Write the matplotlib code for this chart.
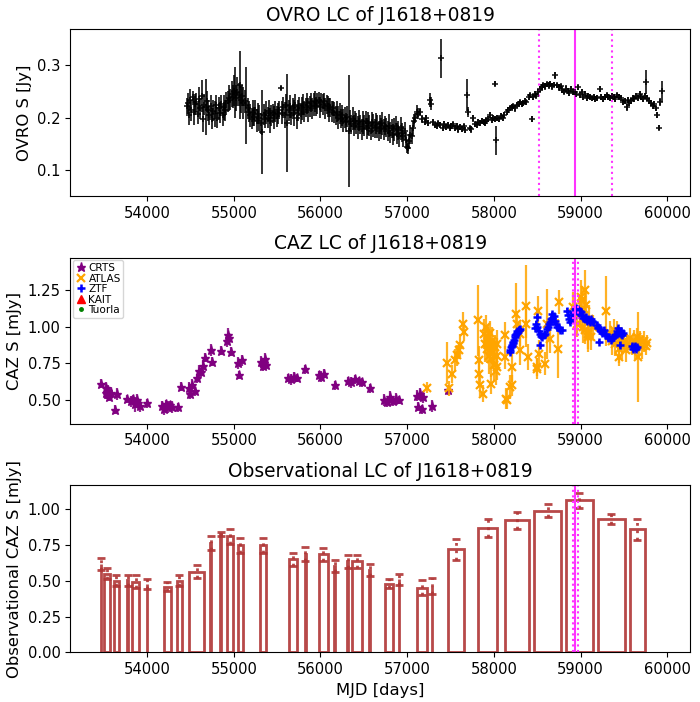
import numpy as np
import matplotlib
matplotlib.use("Agg")
import matplotlib.pyplot as plt

# ---- OVRO 15 GHz light curve ----
ovro_mjd = [54455, 54470, 54485, 54500, 54512, 54525, 54540, 54555, 54570, 54585, 54600, 54615, 54630, 54645, 54660, 54677, 54690,
            54705, 54720, 54735, 54750, 54765, 54780, 54795, 54810, 54825, 54840, 54855, 54870, 54885, 54900, 54915, 54930, 54945,
            54960, 54975, 54990, 55000, 55012, 55025, 55040, 55055, 55069, 55080, 55095, 55110, 55125, 55146, 55160,
            55175, 55190, 55205, 55220, 55235, 55250, 55265, 55280, 55295, 55310, 55331, 55345, 55360, 55375, 55390, 55405, 55420, 55435, 55450, 55465, 55480, 55495,
            55510, 55525, 55539, 55555, 55570, 55585, 55600, 55619, 55635, 55650, 55665, 55680, 55695, 55710, 55725, 55740, 55755, 55770, 55785, 55800,
            55815, 55830, 55845, 55860, 55875, 55890, 55905, 55920, 55935, 55950, 55965, 55980, 55995, 56010, 56025, 56040, 56055, 56070, 56085, 56100, 56115, 56130, 56145,
            56160, 56175, 56190, 56205, 56220, 56235, 56250, 56265, 56280, 56295, 56310, 56327, 56340, 56355, 56370, 56385, 56400, 56415, 56430, 56445,
            56460, 56475, 56490, 56505, 56520, 56535, 56550, 56565, 56580, 56595, 56610, 56625, 56640, 56655, 56670, 56685, 56700, 56715, 56730, 56745,
            56760, 56775, 56790, 56805, 56820, 56835, 56850, 56865, 56880, 56895, 56910, 56925, 56940, 56955, 56970, 56985, 57000, 57010, 57020, 57035, 57050, 57065, 57080, 57095, 57110, 57125,
            57145, 57175, 57200, 57222, 57245, 57268, 57275, 57299, 57320, 57340, 57360, 57380, 57395, 57410, 57430, 57450, 57470, 57490, 57510, 57530,
            57550, 57570, 57590, 57610, 57630, 57650, 57670, 57695, 57700, 57720, 57740, 57760, 57780, 57800, 57818, 57840, 57860, 57880, 57900, 57914,
            57935, 57952, 57975, 57990, 58010, 58018, 58022, 58040, 58060, 58080, 58100, 58120, 58145, 58165, 58185, 58205, 58225, 58245, 58265, 58285,
            58300, 58320, 58340, 58360, 58375, 58400, 58414, 58437, 58450, 58470, 58490, 58510, 58530, 58550, 58570, 58590, 58610, 58630, 58650, 58670,
            58690, 58710, 58730, 58750, 58770, 58790, 58810, 58830, 58850, 58870, 58890, 58910, 58933, 58950, 58970, 58990, 59010, 59030, 59050, 59070,
            59090, 59110, 59130, 59150, 59170, 59190, 59221, 59240, 59260, 59280, 59300, 59320, 59340, 59360, 59380, 59400, 59420, 59440, 59460, 59490,
            59510, 59530, 59545, 59560, 59580, 59600, 59620, 59640, 59660, 59680, 59700, 59720, 59740, 59752, 59770, 59790, 59810, 59830, 59850, 59870,
            59885, 59900, 59915, 59933]
ovro_flux = [0.222, 0.228, 0.205, 0.235, 0.215, 0.240, 0.212, 0.226, 0.230, 0.208, 0.236, 0.218, 0.242, 0.198, 0.225, 0.221, 0.232,
             0.215, 0.205, 0.222, 0.198, 0.214, 0.208, 0.225, 0.200, 0.218, 0.210, 0.226, 0.205, 0.220, 0.215, 0.228, 0.232, 0.238,
             0.235, 0.245, 0.240, 0.252, 0.248, 0.238, 0.250, 0.244, 0.262, 0.235, 0.242, 0.228, 0.232, 0.224, 0.218,
             0.212, 0.205, 0.198, 0.210, 0.202, 0.215, 0.195, 0.208, 0.200, 0.190, 0.173, 0.206, 0.198, 0.210, 0.200, 0.214, 0.195, 0.205, 0.209, 0.200, 0.212, 0.203,
             0.208, 0.215, 0.257, 0.210, 0.220, 0.205, 0.225, 0.190, 0.215, 0.222, 0.205, 0.218, 0.210, 0.225, 0.200, 0.215, 0.222, 0.208, 0.218, 0.225,
             0.212, 0.220, 0.228, 0.215, 0.222, 0.230, 0.218, 0.226, 0.232, 0.222, 0.228, 0.235, 0.220, 0.230, 0.225, 0.232, 0.218, 0.226, 0.222, 0.215, 0.220, 0.212, 0.218,
             0.210, 0.205, 0.212, 0.200, 0.208, 0.198, 0.205, 0.195, 0.200, 0.192, 0.202, 0.175, 0.195, 0.188, 0.198, 0.185, 0.195, 0.190, 0.182, 0.195,
             0.188, 0.178, 0.192, 0.185, 0.195, 0.180, 0.190, 0.185, 0.175, 0.192, 0.186, 0.180, 0.190, 0.183, 0.175, 0.188, 0.180, 0.190, 0.178, 0.185,
             0.182, 0.175, 0.185, 0.172, 0.180, 0.168, 0.178, 0.185, 0.170, 0.176, 0.165, 0.180, 0.172, 0.165, 0.175, 0.158, 0.145, 0.142, 0.155, 0.168, 0.165, 0.180, 0.195, 0.200, 0.212, 0.208,
             0.211, 0.198, 0.193, 0.199, 0.190, 0.234, 0.227, 0.192, 0.186, 0.184, 0.190, 0.186, 0.314, 0.180, 0.188, 0.182, 0.186, 0.180, 0.184, 0.188,
             0.181, 0.185, 0.178, 0.183, 0.179, 0.184, 0.177, 0.244, 0.211, 0.180, 0.178, 0.199, 0.188, 0.186, 0.192, 0.190, 0.195, 0.192, 0.190, 0.195,
             0.198, 0.205, 0.196, 0.200, 0.198, 0.265, 0.157, 0.200, 0.197, 0.204, 0.200, 0.206, 0.211, 0.215, 0.218, 0.220, 0.222, 0.218, 0.225, 0.227,
             0.230, 0.226, 0.228, 0.232, 0.230, 0.240, 0.243, 0.198, 0.240, 0.245, 0.242, 0.250, 0.255, 0.258, 0.262, 0.260, 0.264, 0.262, 0.265, 0.260,
             0.263, 0.281, 0.262, 0.258, 0.260, 0.254, 0.250, 0.256, 0.252, 0.248, 0.255, 0.250, 0.250, 0.246, 0.258, 0.244, 0.250, 0.240, 0.246, 0.238,
             0.242, 0.240, 0.237, 0.240, 0.236, 0.238, 0.255, 0.240, 0.236, 0.240, 0.243, 0.240, 0.238, 0.242, 0.240, 0.236, 0.243, 0.240, 0.238, 0.230,
             0.232, 0.220, 0.234, 0.228, 0.232, 0.238, 0.236, 0.242, 0.238, 0.245, 0.240, 0.236, 0.242, 0.269, 0.238, 0.232, 0.228, 0.222, 0.226, 0.218,
             0.205, 0.181, 0.230, 0.251]
ovro_err = [0.015, 0.020, 0.018, 0.020, 0.020, 0.012, 0.025, 0.020, 0.018, 0.020, 0.022, 0.020, 0.030, 0.025, 0.020, 0.054, 0.020,
            0.020, 0.018, 0.022, 0.020, 0.020, 0.025, 0.018, 0.020, 0.022, 0.020, 0.018, 0.020, 0.024, 0.020, 0.022, 0.020, 0.025,
            0.020, 0.025, 0.022, 0.030, 0.049, 0.025, 0.028, 0.022, 0.065, 0.025, 0.020, 0.030, 0.022, 0.073, 0.020,
            0.020, 0.022, 0.020, 0.025, 0.018, 0.020, 0.022, 0.020, 0.025, 0.020, 0.080, 0.020, 0.018, 0.022, 0.020, 0.020, 0.024, 0.020, 0.018, 0.022, 0.020, 0.020,
            0.020, 0.018, 0.004, 0.022, 0.020, 0.025, 0.020, 0.094, 0.020, 0.022, 0.018, 0.020, 0.025, 0.020, 0.022, 0.020, 0.018, 0.020, 0.022, 0.020,
            0.020, 0.018, 0.020, 0.022, 0.020, 0.018, 0.020, 0.022, 0.020, 0.018, 0.020, 0.015, 0.020, 0.018, 0.020, 0.015, 0.020, 0.018, 0.020, 0.022, 0.018, 0.020, 0.015,
            0.020, 0.018, 0.020, 0.022, 0.020, 0.018, 0.020, 0.022, 0.020, 0.018, 0.020, 0.106, 0.020, 0.018, 0.022, 0.020, 0.018, 0.020, 0.022, 0.020,
            0.018, 0.020, 0.022, 0.020, 0.018, 0.020, 0.022, 0.020, 0.018, 0.020, 0.022, 0.018, 0.020, 0.022, 0.020, 0.018, 0.020, 0.022, 0.020, 0.018,
            0.018, 0.020, 0.022, 0.020, 0.018, 0.020, 0.022, 0.018, 0.020, 0.018, 0.020, 0.022, 0.018, 0.020, 0.018, 0.015, 0.012, 0.010, 0.015, 0.018, 0.015, 0.015, 0.012, 0.010, 0.012, 0.010,
            0.008, 0.007, 0.006, 0.007, 0.006, 0.014, 0.012, 0.006, 0.005, 0.006, 0.005, 0.006, 0.037, 0.005, 0.006, 0.005, 0.006, 0.005, 0.006, 0.005,
            0.006, 0.005, 0.006, 0.005, 0.006, 0.005, 0.006, 0.030, 0.010, 0.005, 0.006, 0.006, 0.005, 0.006, 0.005, 0.006, 0.005, 0.006, 0.005, 0.006,
            0.005, 0.006, 0.005, 0.006, 0.005, 0.005, 0.027, 0.006, 0.005, 0.006, 0.005, 0.006, 0.005, 0.006, 0.005, 0.006, 0.005, 0.006, 0.005, 0.006,
            0.005, 0.006, 0.005, 0.006, 0.005, 0.006, 0.005, 0.006, 0.005, 0.006, 0.005, 0.006, 0.005, 0.006, 0.005, 0.006, 0.005, 0.006, 0.005, 0.006,
            0.005, 0.006, 0.005, 0.006, 0.005, 0.006, 0.005, 0.006, 0.005, 0.006, 0.005, 0.006, 0.028, 0.006, 0.005, 0.006, 0.005, 0.006, 0.005, 0.006,
            0.005, 0.006, 0.005, 0.006, 0.005, 0.006, 0.005, 0.006, 0.005, 0.006, 0.005, 0.006, 0.005, 0.006, 0.005, 0.006, 0.005, 0.006, 0.005, 0.006,
            0.005, 0.006, 0.005, 0.006, 0.005, 0.006, 0.005, 0.006, 0.005, 0.006, 0.005, 0.006, 0.005, 0.023, 0.006, 0.005, 0.006, 0.005, 0.006, 0.005,
            0.006, 0.005, 0.008, 0.020]

# ---- optical (CAZ) light curves ----
crts_mjd = [53469, 53525, 53532, 53540, 53552, 53565, 53586, 53633, 53657, 53774, 53820, 53840, 53860, 53880, 53900, 53915, 54000,
            54174, 54195, 54215, 54240, 54265, 54291, 54362, 54395, 54480, 54500, 54520, 54550, 54573, 54597, 54620, 54644, 54668,
            54738, 54745, 54856, 54917, 54935, 54950, 54973, 55053, 55060, 55090, 55316, 55335, 55355, 55372, 55631, 55660, 55690, 55725,
            55819, 55984, 56010, 56040, 56172, 56313, 56350, 56400, 56440, 56477, 56572, 56736, 56770, 56800, 56840, 56870, 56901,
            57112, 57130, 57150, 57165, 57183, 57291, 57474]
crts_flux = [0.612, 0.58, 0.55, 0.54, 0.56, 0.52, 0.55, 0.433, 0.54, 0.507, 0.49, 0.505, 0.47, 0.50, 0.48, 0.46, 0.478,
             0.46, 0.44, 0.47, 0.45, 0.465, 0.45, 0.45, 0.59, 0.58, 0.54, 0.60, 0.56, 0.648, 0.70, 0.69, 0.73, 0.787,
             0.84, 0.76, 0.836, 0.90, 0.94, 0.92, 0.83, 0.75, 0.67, 0.77, 0.76, 0.73, 0.78, 0.74, 0.65, 0.64, 0.66, 0.65,
             0.71, 0.67, 0.66, 0.68, 0.60, 0.63, 0.62, 0.64, 0.63, 0.62, 0.58, 0.50, 0.485, 0.52, 0.49, 0.51, 0.50,
             0.53, 0.455, 0.54, 0.437, 0.52, 0.46, 0.567]
crts_err = [0.03, 0.04, 0.04, 0.03, 0.04, 0.03, 0.04, 0.03, 0.04, 0.03, 0.04, 0.03, 0.05, 0.04, 0.03, 0.04, 0.03,
            0.03, 0.04, 0.03, 0.04, 0.03, 0.04, 0.03, 0.03, 0.04, 0.03, 0.04, 0.03, 0.03, 0.04, 0.03, 0.04, 0.03,
            0.04, 0.03, 0.03, 0.04, 0.05, 0.04, 0.03, 0.04, 0.03, 0.04, 0.04, 0.03, 0.04, 0.03, 0.03, 0.04, 0.03, 0.03,
            0.03, 0.03, 0.04, 0.03, 0.03, 0.03, 0.04, 0.03, 0.03, 0.03, 0.03, 0.04, 0.03, 0.04, 0.03, 0.04, 0.03,
            0.04, 0.03, 0.04, 0.03, 0.04, 0.04, 0.03]

atlas_mjd = [57230, 57461, 57480, 57511, 57549, 57576, 57599, 57614, 57645, 57650, 57818, 57830, 57832, 57837, 57876,
             57890, 57900, 57910, 57920, 57930, 57934, 57940, 57950, 57960, 57970, 57972, 57980, 57990, 58000, 58010, 58020, 58030, 58035, 58040,
             58126, 58130, 58137, 58145, 58183, 58203, 58210, 58260, 58268, 58299, 58305, 58368, 58372, 58395, 58491, 58499, 58503, 58522, 58587,
             58607, 58645, 58741, 58753, 58914, 58953, 58990, 59000, 59010, 59020, 59030, 59040, 59049, 59050, 59060, 59080, 59087, 59100, 59120, 59140,
             59298, 59340, 59360, 59380, 59400, 59420, 59440, 59445, 59460, 59480, 59500, 59520, 59540,
             59570, 59590, 59610, 59630, 59650, 59664, 59670, 59690, 59710, 59730, 59750, 59770]
atlas_flux = [0.585, 0.752, 0.58, 0.679, 0.77, 0.804, 0.838, 0.872, 1.02, 0.963, 1.043, 0.77, 0.679, 0.60, 0.543,
              0.95, 0.88, 1.00, 0.85, 0.92, 0.895, 0.80, 0.96, 0.87, 0.78, 0.61, 0.90, 0.83, 0.74, 0.86, 0.70, 0.80, 0.725, 0.88,
              0.79, 0.94, 0.509, 0.50, 0.588, 0.725, 0.60, 1.088, 1.02, 0.84, 0.95, 1.14, 1.02, 0.793, 0.725, 0.714, 1.11, 0.816, 0.748,
              1.02, 0.918, 0.85, 1.168, 1.134, 1.02, 1.10, 1.20, 1.05, 1.18, 1.00, 1.12, 1.247, 0.98, 1.15, 0.95, 0.93, 1.05, 0.93, 1.00,
              1.106, 0.96, 0.90, 0.98, 0.88, 0.95, 0.85, 0.793, 0.92, 0.87, 0.90, 0.84, 0.88,
              0.92, 0.87, 0.90, 0.85, 0.93, 0.793, 0.88, 0.91, 0.86, 0.90, 0.87, 0.89]
atlas_err = [0.04, 0.14, 0.05, 0.06, 0.08, 0.07, 0.06, 0.08, 0.08, 0.06, 0.24, 0.10, 0.08, 0.07, 0.06,
             0.10, 0.12, 0.08, 0.10, 0.09, 0.10, 0.12, 0.08, 0.10, 0.12, 0.07, 0.10, 0.09, 0.11, 0.08, 0.10, 0.12, 0.09, 0.10,
             0.08, 0.09, 0.07, 0.06, 0.08, 0.10, 0.07, 0.21, 0.09, 0.10, 0.08, 0.28, 0.10, 0.09, 0.06, 0.07, 0.10, 0.09, 0.08,
             0.24, 0.10, 0.20, 0.08, 0.10, 0.09, 0.10, 0.12, 0.09, 0.10, 0.11, 0.08, 0.14, 0.10, 0.09, 0.12, 0.08, 0.10, 0.09, 0.08,
             0.24, 0.08, 0.09, 0.07, 0.08, 0.09, 0.10, 0.06, 0.08, 0.09, 0.07, 0.08, 0.06,
             0.07, 0.06, 0.08, 0.07, 0.06, 0.31, 0.07, 0.06, 0.08, 0.07, 0.06, 0.05]

ztf_mjd = [58183, 58190, 58197, 58204, 58211, 58218, 58225, 58232, 58240, 58247, 58255, 58262, 58270, 58278, 58285, 58292, 58300,
           58472, 58480, 58491, 58500, 58515, 58530, 58537, 58545, 58560, 58575, 58590, 58607, 58620, 58632, 58645, 58655, 58665,
           58675, 58690, 58703, 58715, 58730, 58745, 58760, 58780, 58837, 58850, 58865, 58880, 58895,
           58914, 58925, 58935, 58945, 58955, 58965, 58975, 58985, 58995, 59005, 59015, 59030, 59045, 59060, 59075, 59090, 59105, 59120, 59135, 59145,
           59183, 59195, 59205, 59214, 59220, 59235, 59250, 59265, 59280, 59298, 59315, 59330, 59345, 59360, 59375, 59395,
           59414, 59425, 59435, 59445, 59452, 59460, 59470, 59480, 59491, 59587, 59600, 59612, 59625, 59635, 59645]
ztf_flux = [0.827, 0.84, 0.86, 0.875, 0.87, 0.89, 0.895, 0.91, 0.94, 0.93, 0.95, 0.96, 0.97, 0.965, 0.975, 0.98, 0.986,
            0.99, 1.02, 1.066, 1.0, 0.97, 0.95, 0.873, 0.935, 0.93, 0.94, 0.95, 0.985, 1.0, 1.02, 1.03, 1.05, 1.06,
            1.088, 1.07, 1.04, 1.02, 1.0, 0.99, 0.98, 0.98, 1.11, 1.08, 1.05, 1.03, 1.06,
            1.09, 1.10, 1.12, 1.13, 1.11, 1.10, 1.12, 1.09, 1.11, 1.10, 1.08, 1.06, 1.05, 1.065, 1.04, 1.05, 1.03, 1.05, 1.04, 1.03,
            1.01, 0.99, 1.0, 0.895, 0.98, 0.97, 0.96, 0.98, 0.95, 0.94, 0.92, 0.93, 0.91, 0.92, 0.93, 0.94,
            0.95, 0.97, 0.99, 0.96, 0.873, 0.95, 0.97, 0.94, 0.96, 0.87, 0.85, 0.86, 0.87, 0.85, 0.86]
ztf_err = [0.015, 0.015, 0.02, 0.015, 0.015, 0.02, 0.015, 0.015, 0.02, 0.015, 0.015, 0.02, 0.015, 0.015, 0.02, 0.015, 0.015,
           0.015, 0.02, 0.015, 0.015, 0.02, 0.015, 0.015, 0.02, 0.015, 0.015, 0.02, 0.015, 0.015, 0.02, 0.015, 0.015, 0.02,
           0.015, 0.015, 0.02, 0.015, 0.015, 0.02, 0.015, 0.015, 0.02, 0.015, 0.015, 0.02, 0.015,
           0.015, 0.02, 0.015, 0.015, 0.02, 0.015, 0.015, 0.02, 0.015, 0.015, 0.02, 0.015, 0.015, 0.02, 0.015, 0.015, 0.02, 0.015, 0.015, 0.02,
           0.015, 0.015, 0.02, 0.015, 0.015, 0.02, 0.015, 0.015, 0.02, 0.015, 0.015, 0.02, 0.015, 0.015, 0.02, 0.015,
           0.015, 0.02, 0.015, 0.015, 0.02, 0.015, 0.015, 0.02, 0.015, 0.015, 0.02, 0.015, 0.015, 0.02, 0.015]

# ---- observational (binned) CAZ light curve ----
bin_center = [53469, 53537, 53645, 53779, 53869, 54000, 54235, 54374, 54571, 54733, 54851, 54955, 55077, 55337,
              55683, 55824, 56033, 56163, 56313, 56421, 56567, 56786, 56905, 57169, 57286, 57559, 57928, 58262,
              58622, 58986, 59353, 59654]
bin_width = [10, 61, 62, 10, 85, 10, 85, 52, 174, 10, 10, 75, 66, 71,
             94, 10, 108, 10, 10, 113, 10, 89, 10, 122, 10, 188, 212, 277,
             311, 306, 315, 165]
bin_flux = [0.618, 0.551, 0.502, 0.503, 0.495, 0.479, 0.460, 0.502, 0.565, 0.765, 0.828, 0.810, 0.748, 0.748,
            0.650, 0.689, 0.685, 0.606, 0.636, 0.636, 0.576, 0.481, 0.511, 0.453, 0.463, 0.720, 0.871, 0.923,
            0.991, 1.063, 0.930, 0.860]
bin_err = [0.043, 0.040, 0.040, 0.039, 0.045, 0.035, 0.033, 0.040, 0.045, 0.050, 0.015, 0.055, 0.053, 0.053,
           0.046, 0.049, 0.045, 0.043, 0.044, 0.045, 0.041, 0.033, 0.039, 0.050, 0.054, 0.075, 0.064, 0.061,
           0.043, 0.054, 0.035, 0.075]

t_peak = 58940
ovro_window = [58520, 59360]
caz_window = [58910, 58970]
xlim = (53117, 60265)
mag = '#ff33ff'

fig = plt.figure(figsize=(7.0, 7.02), dpi=100)
ax1 = fig.add_axes([0.1007, 0.7208, 0.8855, 0.2375])
ax2 = fig.add_axes([0.1007, 0.3964, 0.8855, 0.2365])
ax3 = fig.add_axes([0.1007, 0.0708, 0.8855, 0.2383])

tick_fs = 10.6
lab_fs = 11.8
tit_fs = 13.4

# top: OVRO
ax1.errorbar(ovro_mjd, ovro_flux, yerr=ovro_err, fmt='+', color='k', ms=5, mew=1.3,
             elinewidth=1.4, alpha=0.8)
ax1.axvline(t_peak, color=mag, lw=1.5)
for t in ovro_window:
    ax1.axvline(t, color=mag, lw=1.5, ls=':')
ax1.set_xlim(xlim)
ax1.set_ylim(0.051, 0.369)
ax1.set_yticks([0.1, 0.2, 0.3])
ax1.set_ylabel('OVRO S [Jy]', fontsize=lab_fs)
ax1.set_title('OVRO LC of J1618+0819', fontsize=tit_fs)

# middle: CAZ
ax2.errorbar(crts_mjd, crts_flux, yerr=crts_err, fmt='none', ecolor='purple', elinewidth=1.6, alpha=0.85)
ax2.plot(crts_mjd, crts_flux, '*', color='purple', ms=6.5, ls='none', label='CRTS')
ax2.errorbar(atlas_mjd, atlas_flux, yerr=atlas_err, fmt='none', ecolor='orange', elinewidth=1.6, alpha=0.85)
ax2.plot(atlas_mjd, atlas_flux, 'x', color='orange', ms=6, mew=1.6, ls='none', label='ATLAS')
ax2.errorbar(ztf_mjd, ztf_flux, yerr=ztf_err, fmt='none', ecolor='blue', elinewidth=1.4, alpha=0.85)
ax2.plot(ztf_mjd, ztf_flux, '+', color='blue', ms=5.5, mew=1.8, ls='none', label='ZTF')
ax2.plot([], [], '^', color='red', ms=6, ls='none', label='KAIT')
ax2.plot([], [], '.', color='green', ms=5, ls='none', label='Tuorla')
ax2.axvline(t_peak, color=mag, lw=1.5)
for t in caz_window:
    ax2.axvline(t, color=mag, lw=1.5, ls=':')
ax2.set_xlim(xlim)
ax2.set_ylim(0.338, 1.47)
ax2.set_yticks([0.5, 0.75, 1.0, 1.25])
ax2.set_ylabel('CAZ S [mJy]', fontsize=lab_fs)
ax2.set_title('CAZ LC of J1618+0819', fontsize=tit_fs)
ax2.legend(loc='upper left', fontsize=7.6, handlelength=0.9, handletextpad=0.3,
           labelspacing=0.05, borderpad=0.25, borderaxespad=0.25, framealpha=0.8)

# bottom: binned
brown = '#b03535'
ax3.bar(bin_center, bin_flux, width=bin_width, fill=False, edgecolor=brown, linewidth=2, alpha=0.9)
eb = ax3.errorbar(bin_center, bin_flux, yerr=bin_err, fmt='none', ecolor=brown, elinewidth=2,
                  capsize=3, capthick=2, alpha=0.9)
eb[2][0].set_linestyle(':')
ax3.axvline(t_peak, color=mag, lw=1.5)
for t in caz_window:
    ax3.axvline(t, color=mag, lw=1.5, ls=':')
ax3.set_xlim(xlim)
ax3.set_ylim(0, 1.17)
ax3.set_yticks([0, 0.25, 0.5, 0.75, 1.0])
ax3.set_ylabel('Observational CAZ S [mJy]', fontsize=lab_fs)
ax3.set_xlabel('MJD [days]', fontsize=lab_fs)
ax3.set_title('Observational LC of J1618+0819', fontsize=tit_fs)

for ax in (ax1, ax2, ax3):
    ax.set_xticks([54000, 55000, 56000, 57000, 58000, 59000, 60000])
    ax.tick_params(labelsize=tick_fs)

fig.savefig('out.png', dpi=100)
